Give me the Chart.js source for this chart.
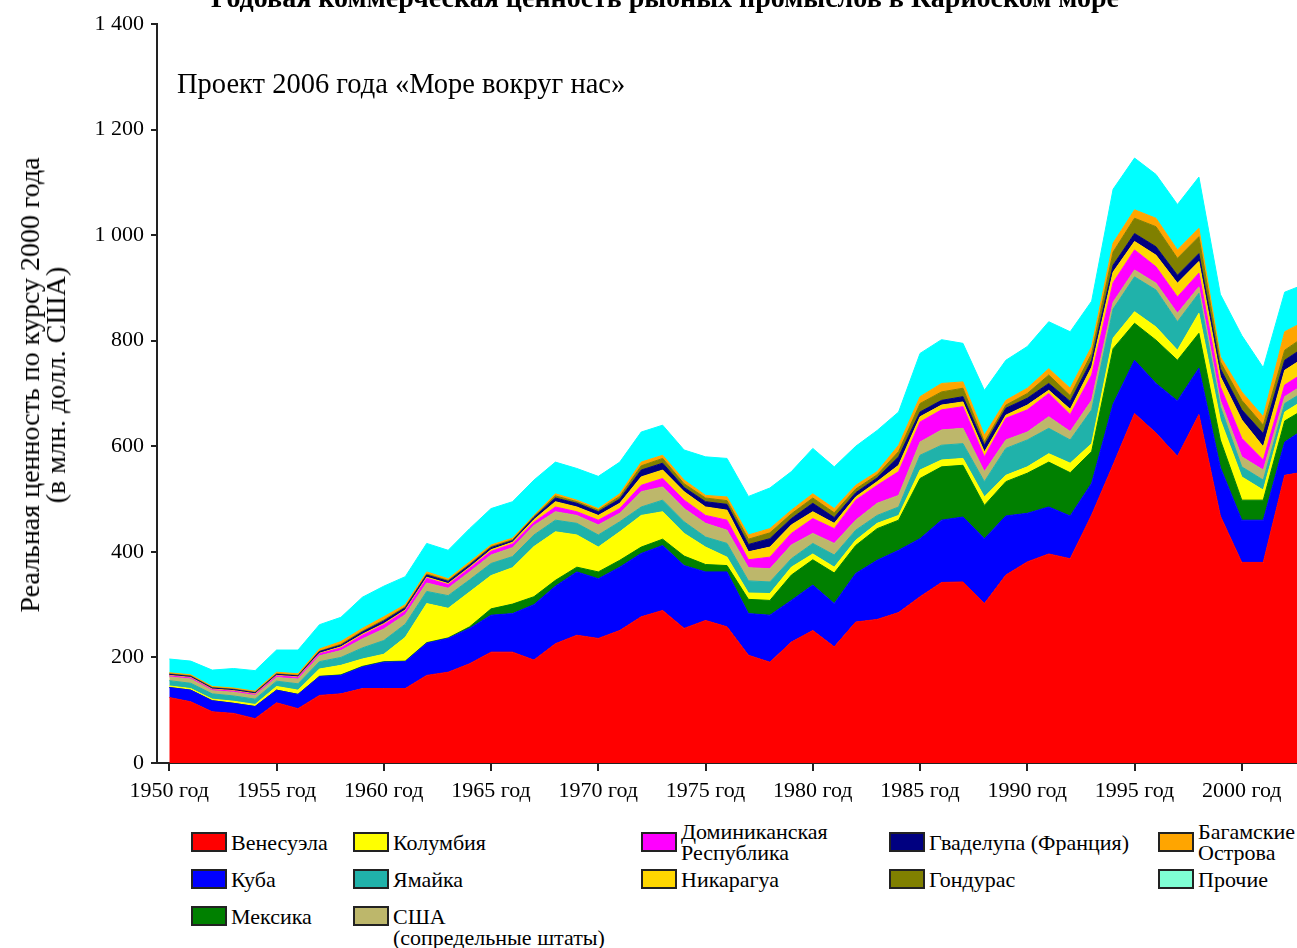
<!DOCTYPE html>
<html><head><meta charset="utf-8">
<script src="https://cdn.jsdelivr.net/npm/chart.js@4"></script>
<style>
html,body{margin:0;padding:0;background:#fff;}
body{width:1297px;height:948px;overflow:hidden;position:relative;font-family:"Liberation Serif","Times New Roman",serif;color:#000;}
#wrap{position:absolute;left:0;top:0;width:1380px;height:810px;}
.abs{position:absolute;white-space:nowrap;}
#title{left:665px;top:-16.5px;transform:translateX(-50%);font-weight:bold;font-size:28px;line-height:28px;}
#note{left:177px;top:68.5px;font-size:28.5px;line-height:30px;}
#ytitle{left:43px;top:385px;transform:translate(-50%,-50%) rotate(-90deg);font-size:28px;line-height:26px;text-align:center;}
.sw{position:absolute;width:36px;height:20px;box-sizing:border-box;border:2px solid #222;}
.lt{position:absolute;font-size:22px;line-height:21px;white-space:pre;}
</style></head><body>
<div id="wrap"><canvas id="c"></canvas></div>
<div id="title" class="abs">Годовая коммерческая ценность рыбных промыслов в Карибском море</div>
<div id="note" class="abs">Проект 2006 года «Море вокруг нас»</div>
<div id="ytitle" class="abs">Реальная ценность по курсу 2000 года<br>(в млн. долл. США)</div>
<div id="legend"></div>
<script>
const years = [1950,1951,1952,1953,1954,1955,1956,1957,1958,1959,1960,1961,1962,1963,1964,1965,1966,1967,1968,1969,1970,1971,1972,1973,1974,1975,1976,1977,1978,1979,1980,1981,1982,1983,1984,1985,1986,1987,1988,1989,1990,1991,1992,1993,1994,1995,1996,1997,1998,1999,2000,2001,2002,2003];
const seriesNames = ['Венесуэла','Куба','Мексика','Колумбия','Ямайка','США (сопредельные штаты)','Доминиканская Республика','Никарагуа','Гваделупа (Франция)','Гондурас','Багамские Острова','Прочие'];
const venezuela = [124,116,97,94,84,114,103,128,131,141, 141,141,166,172,188,210,210,195,226,242, 236,251,277,289,255,270,258,204,191,229, 251,220,267,272,285,315,342,343,302,356, 381,396,387,470,565,662,625,581,660,468, 380,380,545,552];
const cuba = [19,22,21,19,23,24,27,36,35,41, 50,51,61,64,67,70,73,105,109,120, 113,120,120,123,119,92,104,79,89,79, 86,82,92,112,118,110,118,123,123,112, 92,89,81,60,115,101,94,105,88,92, 80,80,63,83];
const mexico = [0,0,0,0,0,0,0,0,1,1, 1,1,1,1,3,12,18,15,11,9, 13,13,12,12,18,14,12,27,28,48, 48,58,53,60,57,114,101,98,63,65, 76,85,82,60,105,70,82,77,66,52, 38,38,40,37];
const colombia = [3,3,3,4,4,7,8,14,18,14, 14,45,74,56,66,63,69,95,92,61, 47,54,60,52,43,33,16,12,13,15, 11,11,10,10,9,16,13,13,16,12, 12,16,18,15,20,22,25,19,38,38, 44,19,17,18];
const jamaica = [10,10,10,10,10,10,12,14,15,21, 26,25,23,24,23,23,21,22,22,22, 23,19,16,22,22,19,26,23,22,16, 20,23,19,15,16,28,28,28,29,51, 51,48,44,64,55,66,70,54,38,25, 19,19,16,16];
const usa = [7,8,6,7,7,7,9,11,13,17, 22,18,16,14,15,16,17,18,16,15, 19,16,29,25,25,26,25,25,25,26, 19,22,19,23,22,25,29,29,19,16, 15,22,16,18,13,13,13,16,12,12, 19,19,13,14];
const dominican = [2,2,2,2,2,3,3,4,5,7, 8,7,9,7,7,7,7,6,9,7, 9,9,12,16,16,15,19,15,22,22, 28,28,38,34,45,38,38,41,28,41, 42,44,32,48,37,38,31,31,26,26, 35,19,22,22];
const nicaragua = [1,1,1,1,1,1,1,1,2,2, 2,2,2,2,2,3,3,5,10,9, 9,10,16,16,16,16,19,15,19,16, 13,10,6,7,12,10,9,9,9,6, 9,6,10,15,20,16,22,26,22,19, 35,25,28,28];
const guadeloupe = [2,2,2,2,2,2,2,3,3,4, 5,4,4,4,4,4,3,4,7,7, 7,8,13,13,8,10,11,14,16,12, 16,11,8,7,16,9,9,10,13,13, 13,13,15,13,13,15,16,15,15,15, 19,25,19,20];
const honduras = [1,1,1,1,1,1,1,1,2,2, 2,2,2,2,2,2,2,2,4,3, 3,5,8,9,7,7,7,10,11,9, 10,9,7,6,10,16,16,16,6,6, 9,16,11,13,25,29,38,32,32,13, 18,16,19,20];
const bahamas = [2,2,2,2,2,3,3,4,5,5, 6,4,4,3,4,3,3,2,4,3, 3,5,7,6,7,5,7,8,8,7, 8,8,7,6,12,13,16,12,13,9, 10,12,14,13,17,16,16,16,16,10, 16,16,35,28];
const others = [26,26,31,37,39,42,45,46,46,59, 58,53,54,54,63,69,69,67,60,60, 61,60,57,57,57,73,73,73,77,73, 86,79,74,78,63,82,83,73,85,76, 79,89,107,86,102,98,83,86,97,118, 107,93,75,70];
const xTickValues = [1950,1955,1960,1965,1970,1975,1980,1985,1990,1995,2000];
const xTickLabels = ['1950 год','1955 год','1960 год','1965 год','1970 год','1975 год','1980 год','1985 год','1990 год','1995 год','2000 год'];
const yTickValues = [0,200,400,600,800,1000,1200,1400];
const yTickLabels = ['0','200','400','600','800','1 000','1 200','1 400'];
const legendLabels = ['Венесуэла','Куба','Мексика','Колумбия','Ямайка','США\n(сопредельные штаты)','Доминиканская\nРеспублика','Никарагуа','Гваделупа (Франция)','Гондурас','Багамские\nОстрова','Прочие'];

const allSeries = [venezuela,cuba,mexico,colombia,jamaica,usa,dominican,nicaragua,guadeloupe,honduras,bahamas,others];
const fillColors = ['#ff0000','#0000ff','#008000','#ffff00','#20b2aa','#bdb76b','#ff00ff','#ffd700','#000080','#808000','#ffa500','#00ffff'];
const legendColors = ['#ff0000','#0000ff','#008000','#ffff00','#20b2aa','#bdb76b','#ff00ff','#ffd700','#000080','#808000','#ffa500','#7fffd4'];

const datasets = allSeries.map((vals,i)=>({
  label: seriesNames[i],
  data: years.map((yr,j)=>({x:yr,y:vals[j]})),
  fill: i===0 ? 'origin' : '-1',
  backgroundColor: fillColors[i],
  borderColor: fillColors[i],
  borderWidth: 1,
  pointRadius: 0,
  tension: 0
}));

const AXIS_LEFT = 157, PX_PER_YEAR = 21.45, WRAP_W = 1380;
const xMin = 1950 - (169.3 - AXIS_LEFT)/PX_PER_YEAR;
const xMax = xMin + (WRAP_W - AXIS_LEFT)/PX_PER_YEAR;
const tickFont = {family:'"Liberation Serif","Times New Roman",serif', size:22};

new Chart(document.getElementById('c'), {
  type:'line',
  data:{datasets},
  options:{
    responsive:true, maintainAspectRatio:false, animation:false,
    layout:{padding:{top:24,left:0,right:0,bottom:0}},
    plugins:{legend:{display:false},tooltip:{enabled:false},title:{display:false}},
    elements:{line:{borderJoinStyle:'round'}},
    scales:{
      x:{type:'linear',min:xMin,max:xMax,
        afterBuildTicks:(s)=>{s.ticks = xTickValues.map(v=>({value:v}));},
        afterFit:(s)=>{s.height = 47;},
        ticks:{autoSkip:false,maxRotation:0,color:'#000',font:tickFont,padding:7,
          callback:(v)=>{const k=xTickValues.indexOf(v);return k>=0?xTickLabels[k]:'';}},
        grid:{drawOnChartArea:false,drawTicks:true,tickLength:8,color:'#222',lineWidth:2},
        border:{display:true,color:'#222',width:2}
      },
      y:{stacked:true,min:0,max:1400,
        afterBuildTicks:(s)=>{s.ticks = yTickValues.map(v=>({value:v}));},
        afterFit:(s)=>{s.width = AXIS_LEFT;},
        ticks:{color:'#000',font:tickFont,padding:7,
          callback:(v)=>{const k=yTickValues.indexOf(v);return k>=0?yTickLabels[k]:'';}},
        grid:{drawOnChartArea:false,drawTicks:true,tickLength:6,color:'#222',lineWidth:2},
        border:{display:true,color:'#222',width:2}
      }
    }
  }
});

// legend
const legendPos = [
  {x:191,y:832,a:'c'},{x:191,y:869,a:'c'},{x:191,y:906,a:'c'},
  {x:353,y:832,a:'c'},{x:353,y:869,a:'c'},{x:353,y:906,a:'t'},
  {x:641,y:832,a:'c'},{x:641,y:869,a:'c'},
  {x:889,y:832,a:'c'},{x:889,y:869,a:'c'},
  {x:1158,y:832,a:'c'},{x:1158,y:869,a:'c'}
];
const lg = document.getElementById('legend');
legendLabels.forEach((lab,i)=>{
  const p = legendPos[i];
  const sw = document.createElement('div');
  sw.className='sw'; sw.style.left=p.x+'px'; sw.style.top=p.y+'px'; sw.style.background=legendColors[i];
  lg.appendChild(sw);
  const t = document.createElement('div');
  t.className='lt'; t.textContent=lab;
  const lines = lab.split('\n').length;
  t.style.left=(p.x+40)+'px';
  t.style.top=(p.a==='c' ? p.y+10-lines*10.5 : p.y-0.5)+'px';
  lg.appendChild(t);
});
</script>
</body></html>
